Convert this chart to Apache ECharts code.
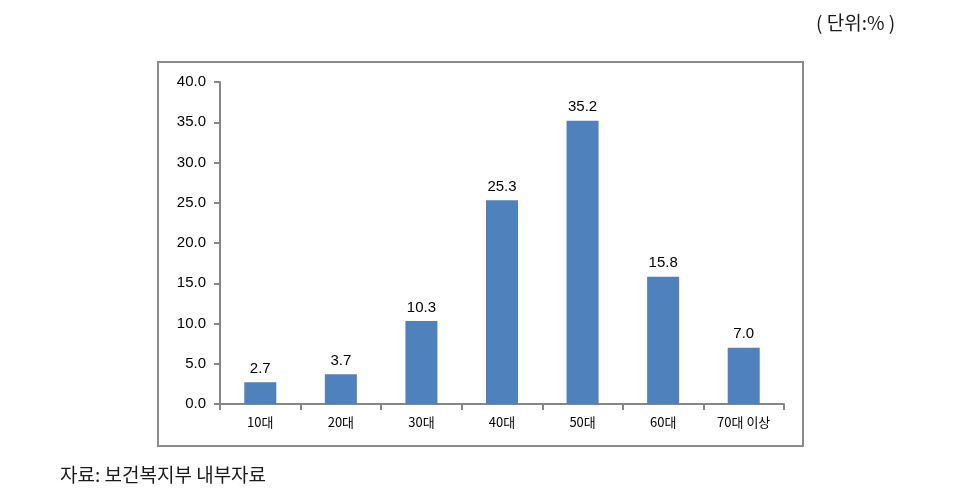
<!DOCTYPE html>
<html><head><meta charset="utf-8">
<script src="https://cdn.jsdelivr.net/npm/echarts@6/dist/echarts.min.js"></script>
<style>html,body{margin:0;padding:0;background:#fff}#c{width:970px;height:503px}</style>
</head><body><div id="c"></div>
<script>
var categories = ['10대','20대','30대','40대','50대','60대','70대 이상'];
var values = [2.7, 3.7, 10.3, 25.3, 35.2, 15.8, 7.0];
var yTicks = [0, 5, 10, 15, 20, 25, 30, 35, 40];

var chart = echarts.init(document.getElementById('c'), null, {renderer:'canvas'});
var axisGrey = '#868686';
chart.setOption({
  animation: false,
  graphic: [
    {type:'rect', shape:{x:158, y:62, width:645, height:384}, style:{fill:'none', stroke:'#8c8c8c', lineWidth:2}},
    {type:'text', left:816, top:13, style:{text:'( 단위:% )', font:'19px "Noto Sans CJK KR"', fill:'#1a1a1a'}},
    {type:'text', left:60, top:465, style:{text:'자료: 보건복지부 내부자료', font:'19px "Noto Sans CJK KR"', fill:'#1a1a1a'}}
  ],
  grid: {left:220, top:82, right:186, bottom:99, containLabel:false},
  xAxis: {
    type:'category', data: categories,
    axisLine:{lineStyle:{color:axisGrey, width:2}},
    axisTick:{show:true, alignWithLabel:false, length:6, lineStyle:{color:axisGrey, width:2}},
    axisLabel:{color:'#000', fontSize:13, fontFamily:'"Noto Sans CJK KR", "Liberation Sans"', margin:12}
  },
  yAxis: {
    type:'value', min:0, max:40, interval:5,
    axisLine:{show:true, lineStyle:{color:axisGrey, width:2}},
    axisTick:{show:true, length:6, lineStyle:{color:axisGrey, width:2}},
    splitLine:{show:false},
    axisLabel:{color:'#000', fontSize:15, fontFamily:'"Liberation Sans", Arial', margin:14,
      formatter:function(v){return v.toFixed(1);}}
  },
  series: [{
    type:'bar', data: values, barWidth:32,
    itemStyle:{color:'#4F81BD'},
    label:{show:true, position:'top', distance:6, color:'#000', fontSize:15, fontFamily:'"Liberation Sans", Arial',
      formatter:function(p){return p.value.toFixed(1);}}
  }]
});
</script></body></html>
